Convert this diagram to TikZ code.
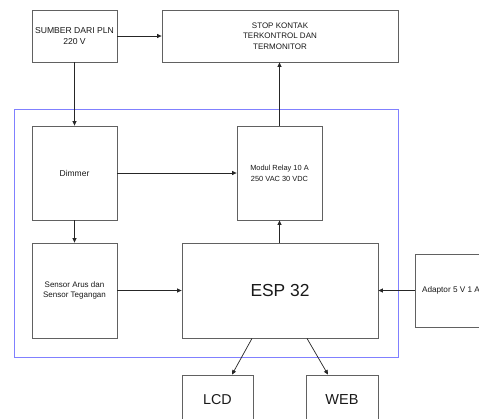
\documentclass[tikz,border=0pt]{standalone}
\usepackage{fontspec}
\setmainfont{Liberation Sans}
\usetikzlibrary{arrows.meta}
\begin{document}
\begin{tikzpicture}[x=1pt,y=-1pt,
  blk/.style={draw=black!62, line width=0.8pt, inner sep=0pt, align=center, text=black!90},
  arr/.style={draw=black!85, line width=0.7pt, -{Triangle[length=4.5pt,width=4pt]}},
  ln/.style={draw=black!85, line width=0.7pt},
  frame/.style={draw=blue!50!white, line width=1pt}]
\useasboundingbox (0,0) rectangle (479,418);
\clip (0,0) rectangle (479,418);
\fill[white] (0,0) rectangle (479,418);
\draw[frame] (14,109.5) rectangle (398,357.5);
\node[blk, minimum width=85pt, minimum height=52pt, font=\fontsize{8.6}{10.5}\selectfont] (sumber) at (74.5,36) {SUMBER DARI PLN\\220 V};
\node[blk, minimum width=236pt, minimum height=52pt, font=\fontsize{8}{10.5}\selectfont] (stop) at (280,36) {STOP KONTAK\\TERKONTROL DAN\\TERMONITOR};
\node[blk, minimum width=85pt, minimum height=94pt, font=\fontsize{8.5}{10.5}\selectfont] (dimmer) at (74.5,173) {Dimmer};
\node[blk, minimum width=85pt, minimum height=94pt, font=\fontsize{7.4}{11}\selectfont] (relay) at (279.5,173) {Modul Relay 10 A\\250 VAC 30 VDC};
\node[blk, minimum width=85pt, minimum height=95pt, font=\fontsize{8}{10}\selectfont] (sensor) at (74.5,290.5) {Sensor Arus dan\\Sensor Tegangan};
\node[blk, minimum width=196pt, minimum height=95pt, font=\fontsize{17.4}{20}\selectfont] (esp) at (280,290.5) {ESP 32};
\node[blk, minimum width=72pt, minimum height=73pt, font=\fontsize{8.2}{10}\selectfont] (adaptor) at (451,290.5) {Adaptor 5 V 1 A};
\node[blk, minimum width=71pt, minimum height=50pt, font=\fontsize{14.3}{16}\selectfont] (lcd) at (217.5,400) {LCD};
\node[blk, minimum width=72pt, minimum height=50pt, font=\fontsize{14.5}{16}\selectfont] (web) at (342,400) {WEB};
\draw[arr] (sumber.south) -- (dimmer.north);
\draw[arr] (sumber.east) -- (stop.west |- sumber.east);
\draw[arr] (relay.north) -- (relay.north |- stop.south);
\draw[arr] (dimmer.east) -- (relay.west);
\draw[arr] (dimmer.south) -- (sensor.north);
\draw[arr] (sensor.east) -- (esp.west);
\draw[arr] (relay.south |- esp.north) -- (relay.south);
\draw[arr] (adaptor.west) -- (esp.east);
\draw[arr] ([xshift=-28pt]esp.south) -- ([xshift=14.5pt]lcd.north);
\draw[arr] ([xshift=27pt]esp.south) -- ([xshift=-14pt]web.north);
\end{tikzpicture}
\end{document}
